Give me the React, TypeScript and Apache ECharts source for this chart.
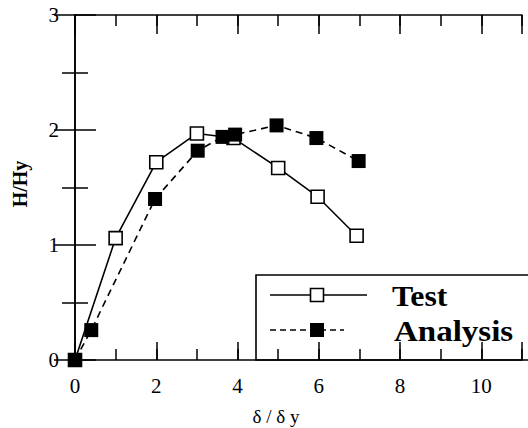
import React, { useEffect, useRef } from "react";
import * as echarts from "echarts";

// Normalised displacement δ/δy and normalised load H/Hy
const testX = [0, 1, 2, 3, 3.9, 5, 5.97, 6.93];
const testY = [0, 1.06, 1.72, 1.97, 1.93, 1.67, 1.42, 1.08];
const analysisX = [0, 0.4, 1.97, 3.02, 3.63, 3.94, 4.96, 5.94, 6.98];
const analysisY = [0, 0.26, 1.4, 1.82, 1.94, 1.96, 2.04, 1.93, 1.73];

const xMin = 0;
const xMax = 11;
const yMin = 0;
const yMax = 3;
const legendNames = ["Test", "Analysis"];
const xName = "δ / δ y";
const yName = "H/Hy";

const SERIF = "Liberation Serif, Times New Roman, DejaVu Serif, serif";

const pairs = (xs: number[], ys: number[]) => xs.map((x, i) => [x, ys[i]]);

export default function App() {
  const ref = useRef<HTMLDivElement>(null);

  useEffect(() => {
    if (!ref.current) return;
    const chart = echarts.init(ref.current, null, { renderer: "svg" });
    const line = { show: true, lineStyle: { color: "#000", width: 1.6 } };
    const baseX = {
      type: "value" as const,
      min: xMin,
      max: xMax,
      splitLine: { show: false },
    };
    const baseY = {
      type: "value" as const,
      min: yMin,
      max: yMax,
      interval: 1,
      splitLine: { show: false },
    };

    chart.setOption({
      animation: false,
      backgroundColor: "#fff",
      textStyle: { fontFamily: SERIF },
      grid: { left: 75, right: 6, top: 15, bottom: 68 },
      xAxis: [
        {
          ...baseX,
          position: "bottom",
          interval: 2,
          axisLine: line,
          axisTick: { show: true, inside: true, length: 18, lineStyle: { color: "#000", width: 1.5 } },
          axisLabel: {
            color: "#000",
            fontFamily: SERIF,
            fontSize: 21,
            margin: 15,
            formatter: (v: number) => (v > 10 ? "" : String(v)),
          },
        },
        {
          ...baseX,
          position: "bottom",
          interval: 1,
          axisLine: { show: false },
          axisTick: { show: true, inside: true, length: 11, lineStyle: { color: "#000", width: 1.5 } },
          axisLabel: { show: false },
        },
        {
          ...baseX,
          position: "top",
          interval: 2,
          axisLine: line,
          axisTick: { show: true, inside: true, length: 19, lineStyle: { color: "#000", width: 1.5 } },
          axisLabel: { show: false },
        },
        {
          ...baseX,
          position: "top",
          interval: 1,
          axisLine: { show: false },
          axisTick: { show: true, inside: true, length: 11, lineStyle: { color: "#000", width: 1.5 } },
          axisLabel: { show: false },
        },
      ],
      yAxis: [
        {
          ...baseY,
          position: "left",
          axisLine: line,
          axisTick: { show: true, inside: true, length: 21, lineStyle: { color: "#000", width: 1.5 } },
          minorTick: { show: true, splitNumber: 2, length: 13, lineStyle: { color: "#000", width: 1.5 } },
          axisLabel: { color: "#000", fontFamily: SERIF, fontSize: 21, margin: 16 },
        },
        {
          ...baseY,
          position: "right",
          axisLine: line,
          axisTick: { show: true, inside: true, length: 21, lineStyle: { color: "#000", width: 1.5 } },
          minorTick: { show: true, splitNumber: 2, length: 13, lineStyle: { color: "#000", width: 1.5 } },
          axisLabel: { show: false },
        },
      ],
      series: [
        {
          name: legendNames[0],
          type: "line",
          xAxisIndex: 0,
          yAxisIndex: 0,
          data: pairs(testX, testY),
          symbol: "rect",
          symbolSize: 13,
          showAllSymbol: true,
          lineStyle: { color: "#000", width: 1.6 },
          itemStyle: { color: "#fff", borderColor: "#000", borderWidth: 1.6 },
          z: 2,
        },
        {
          name: legendNames[1],
          type: "line",
          xAxisIndex: 0,
          yAxisIndex: 0,
          data: pairs(analysisX, analysisY),
          symbol: "rect",
          symbolSize: 14,
          showAllSymbol: true,
          lineStyle: { color: "#000", width: 1.6, type: [7, 5] },
          itemStyle: { color: "#000", borderColor: "#000", borderWidth: 0 },
          z: 3,
        },
      ],
      graphic: [
        // legend box
        {
          type: "group",
          z: 100,
          children: [
            {
              type: "rect",
              shape: { x: 256, y: 275, width: 280, height: 85 },
              style: { fill: "#fff", stroke: "#000", lineWidth: 1.6 },
            },
            {
              type: "line",
              shape: { x1: 270, y1: 295, x2: 367, y2: 295 },
              style: { stroke: "#000", lineWidth: 1.6 },
            },
            {
              type: "rect",
              shape: { x: 310.5, y: 288.5, width: 13, height: 13 },
              style: { fill: "#fff", stroke: "#000", lineWidth: 1.6 },
            },
            {
              type: "line",
              shape: { x1: 270, y1: 330, x2: 344, y2: 330 },
              style: { stroke: "#000", lineWidth: 1.6, lineDash: [6, 4] },
            },
            {
              type: "rect",
              shape: { x: 310, y: 323, width: 14, height: 14 },
              style: { fill: "#000" },
            },
            {
              type: "text",
              x: 392,
              y: 296,
              scaleX: 1.06,
              style: {
                text: legendNames[0],
                fontFamily: SERIF,
                fontWeight: "bold",
                fontSize: 30,
                fill: "#000",
                textVerticalAlign: "middle",
              },
            },
            {
              type: "text",
              x: 394,
              y: 331,
              scaleX: 1.1,
              style: {
                text: legendNames[1],
                fontFamily: SERIF,
                fontWeight: "bold",
                fontSize: 30,
                fill: "#000",
                textVerticalAlign: "middle",
              },
            },
          ],
        },
        // axis titles
        {
          type: "text",
          x: 276,
          y: 416,
          style: {
            text: xName,
            fontFamily: SERIF,
            fontSize: 19,
            fill: "#000",
            textAlign: "center",
            textVerticalAlign: "middle",
          },
        },
        {
          type: "text",
          x: 20,
          y: 184,
          rotation: Math.PI / 2,
          style: {
            text: yName,
            fontFamily: SERIF,
            fontWeight: "bold",
            fontSize: 20,
            fill: "#000",
            textAlign: "center",
            textVerticalAlign: "middle",
          },
        },
      ],
    });
    return () => chart.dispose();
  }, []);

  return (
    <div
      ref={ref}
      style={{ position: "fixed", left: 0, top: 0, width: 528, height: 428 }}
    />
  );
}
